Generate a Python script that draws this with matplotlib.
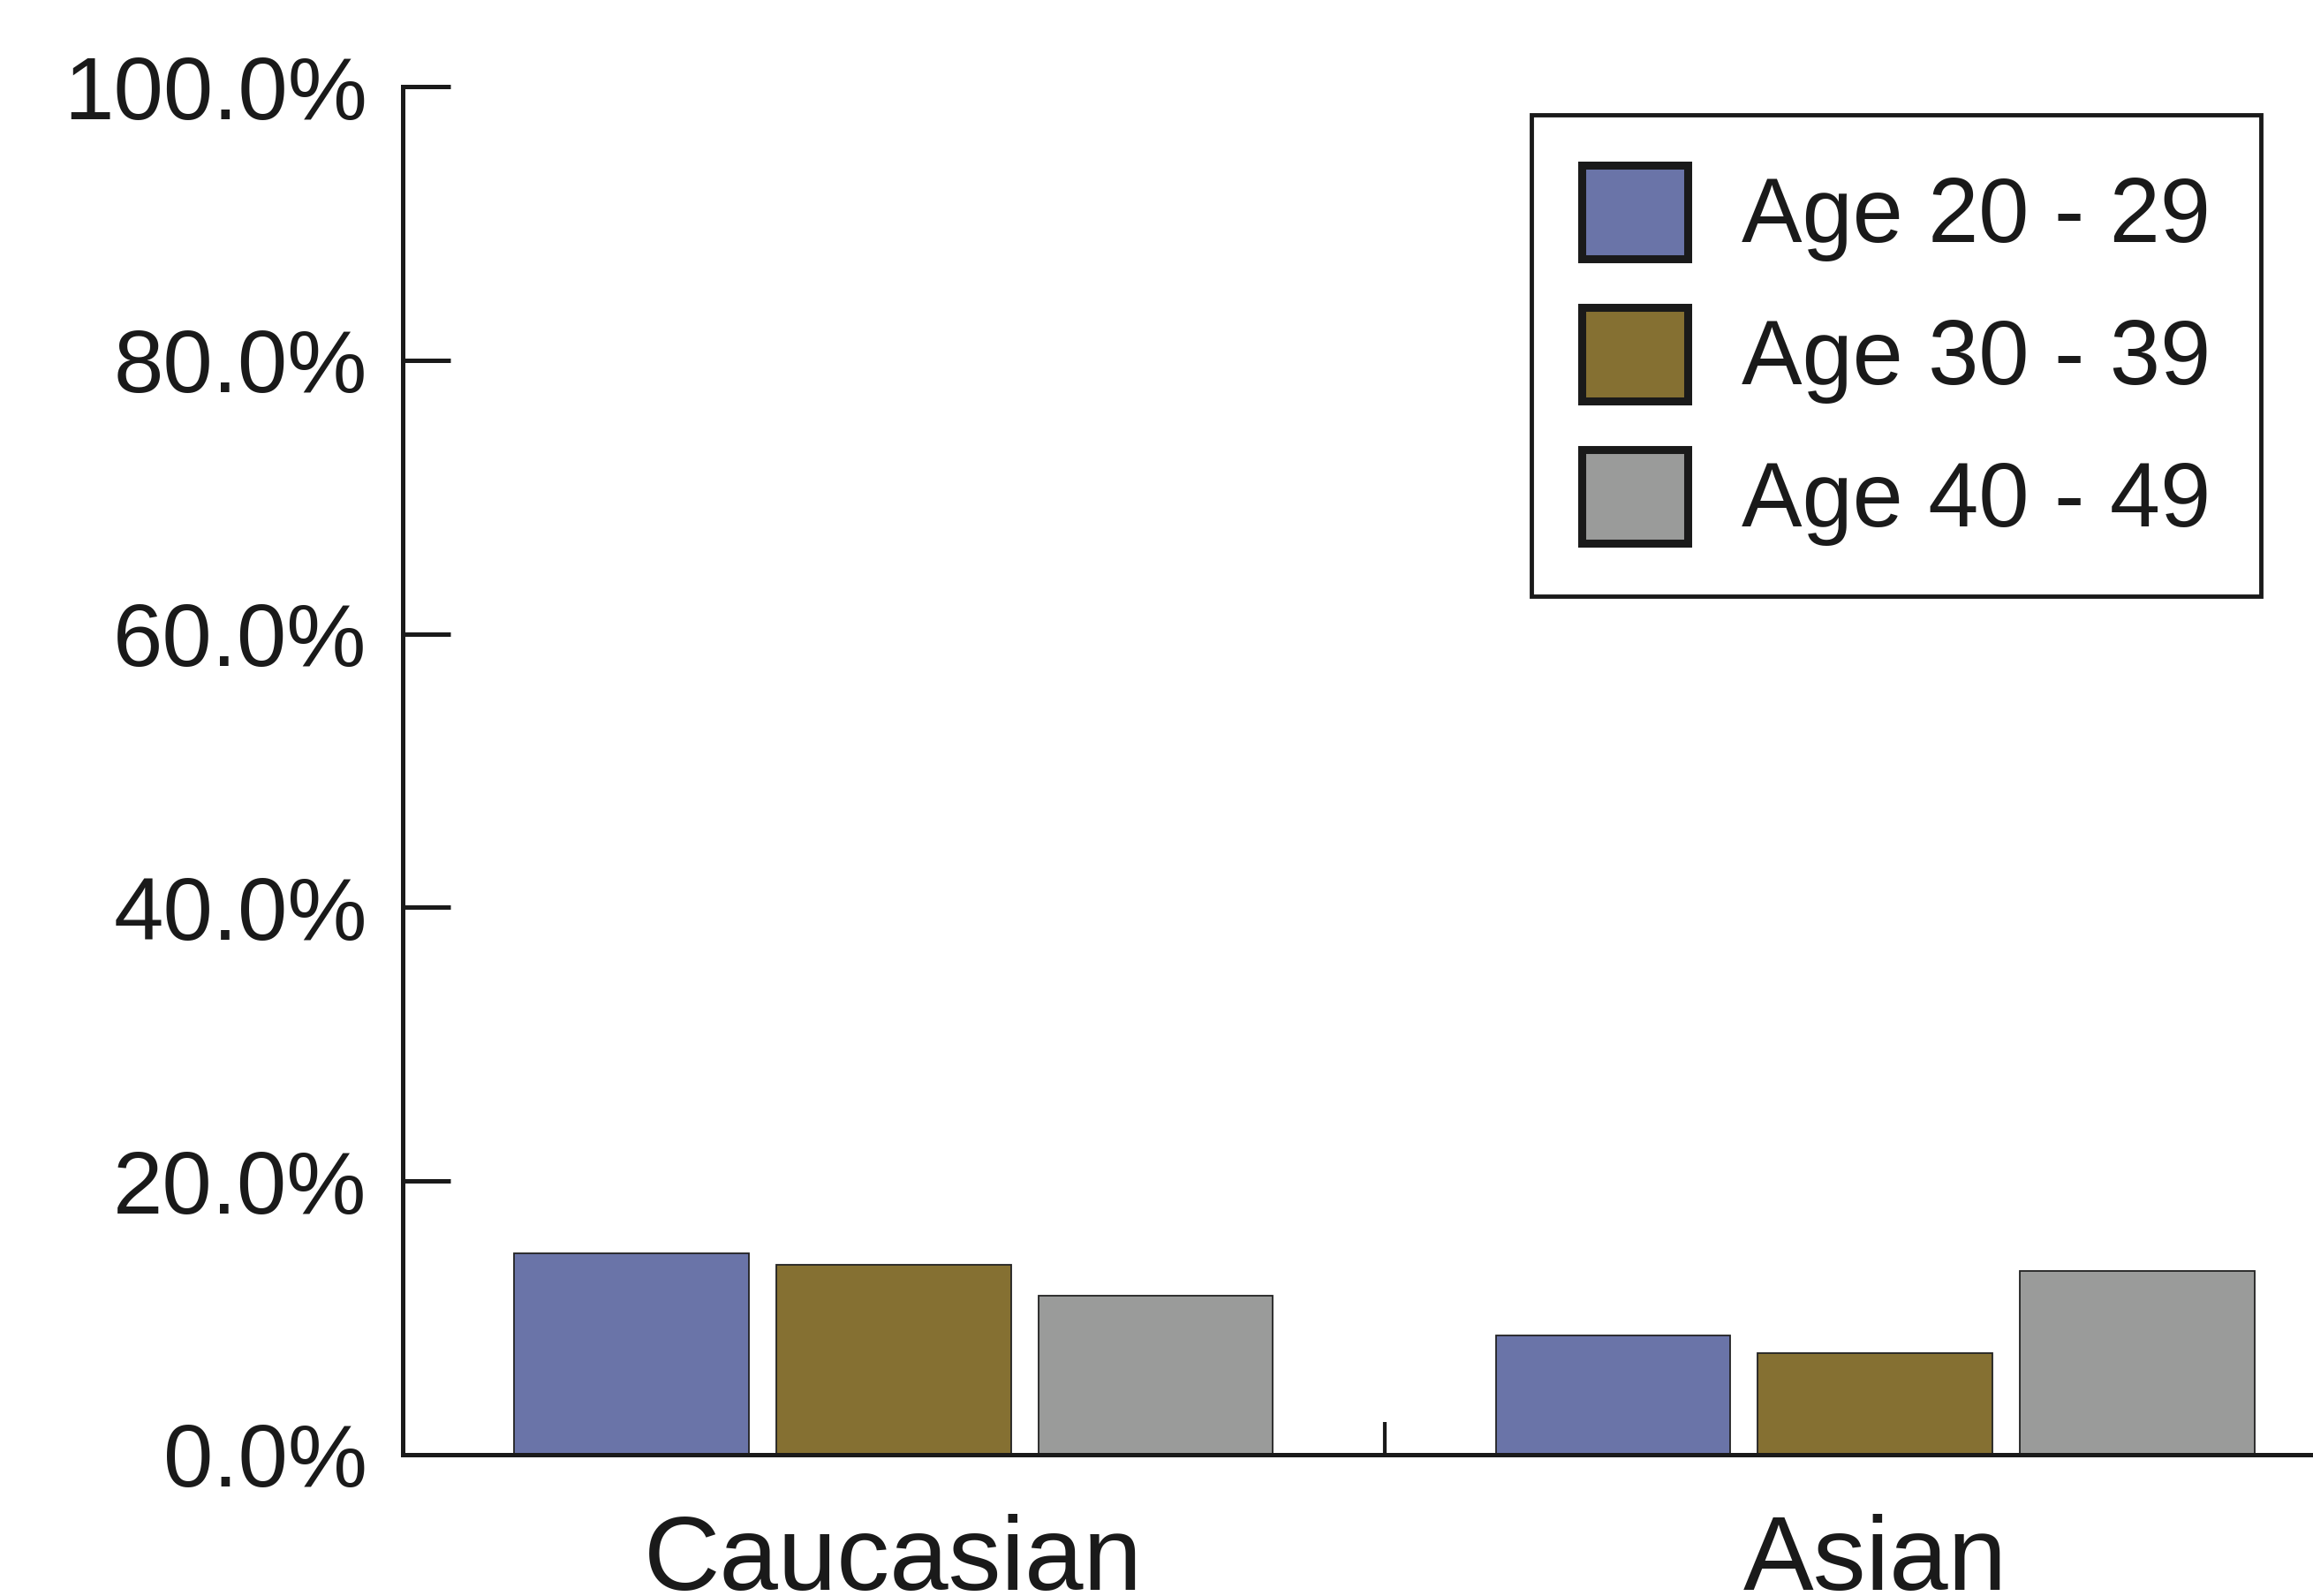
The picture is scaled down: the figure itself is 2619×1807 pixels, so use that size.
import matplotlib
matplotlib.use('Agg')
import matplotlib.pyplot as plt
from matplotlib.ticker import FixedLocator, StrMethodFormatter
import numpy as np

plt.rcParams['font.family'] = ['Liberation Sans', 'DejaVu Sans']

# Data
categories = ['Caucasian', 'Asian']
age_groups = ['Age 20 - 29', 'Age 30 - 39', 'Age 40 - 49']
age_20_29 = [14.7, 8.7]
age_30_39 = [13.9, 7.4]
age_40_49 = [11.6, 13.4]
colors = ['#6A74A8', '#857032', '#9A9B9A']

series = [age_20_29, age_30_39, age_40_49]

fig = plt.figure(figsize=(26.19, 18.07), dpi=100)
ax = fig.add_axes([456 / 2619, 160 / 1807, (2619 - 456) / 2619, 1549 / 1807])

x = np.arange(len(categories))
bar_w = 0.239
step = 0.267
for i, (vals, lab, col) in enumerate(zip(series, age_groups, colors)):
    ax.bar(x + (i - 1) * step, vals, bar_w, color=col, edgecolor='#222222',
           linewidth=1.3, label=lab, zorder=3)

ax.set_xlim(-0.5, 1.446)
ax.set_ylim(0, 100)

# Spines
for s in ['top', 'right']:
    ax.spines[s].set_visible(False)
for s in ['left', 'bottom']:
    ax.spines[s].set_linewidth(3.6)
    ax.spines[s].set_color('#1a1a1a')
    ax.spines[s].set_zorder(4)

# Y axis
ax.set_yticks([0, 20, 40, 60, 80, 100])
ax.yaxis.set_major_formatter(StrMethodFormatter('{x:.1f}%'))
ax.tick_params(axis='y', direction='in', length=39, width=3.6, pad=29,
               labelsize=73, colors='#1a1a1a')

# X axis: labels at category centres, tick mark between groups
ax.set_xticks(x)
ax.set_xticklabels(categories)
ax.tick_params(axis='x', which='major', length=0, pad=48, labelsize=86,
               colors='#1a1a1a')
ax.xaxis.set_minor_locator(FixedLocator([0.5]))
ax.tick_params(axis='x', which='minor', direction='in', length=27, width=3,
               color='#1a1a1a')

leg = ax.legend(loc='upper left', bbox_to_anchor=(1734 / 2619, 1 - 130 / 1807),
                bbox_transform=fig.transFigure, fontsize=74, frameon=True,
                fancybox=False, edgecolor='#1a1a1a', framealpha=1,
                borderpad=0.55, handlelength=1.17, handleheight=1.21,
                handletextpad=0.6, labelspacing=0.5, borderaxespad=0)
leg.get_frame().set_linewidth(3.5)
for h in leg.legend_handles:
    h.set_linewidth(6.5)
    h.set_edgecolor('#1a1a1a')
for t in leg.get_texts():
    t.set_color('#1a1a1a')

fig.savefig('out.png', dpi=100, facecolor='white')
